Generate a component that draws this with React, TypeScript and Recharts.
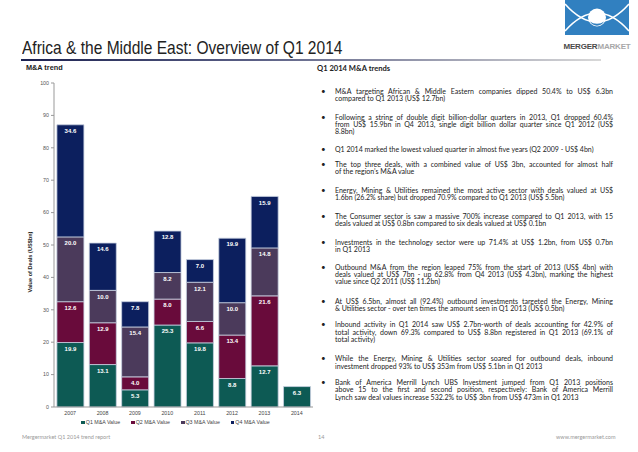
import React from 'react';
import { BarChart, Bar, XAxis, YAxis, Legend, LabelList, Label } from 'recharts';

const years = ['2007', '2008', '2009', '2010', '2011', '2012', '2013', '2014'];
const q1Values = [19.9, 13.1, 5.3, 25.3, 19.8, 8.8, 12.7, 6.3];
const q2Values = [12.6, 12.9, 4.0, 8.0, 6.6, 13.4, 21.6, null];
const q3Values = [20.0, 10.0, 15.4, 8.2, 12.1, 10.0, 14.8, null];
const q4Values = [34.6, 14.6, 7.8, 12.8, 7.0, 19.9, 15.9, null];
const yTicks = [0, 10, 20, 30, 40, 50, 60, 70, 80, 90, 100];

const seriesNames = ['Q1 M&A Value', 'Q2 M&A Value', 'Q3 M&A Value', 'Q4 M&A Value'];
const seriesKeys = ['q1', 'q2', 'q3', 'q4'];
const seriesColors = ['#0d5a54', '#690b3b', '#4b3a5b', '#0c1f5e'];

const bulletLines: string[][] = [
  ['M&A targeting African & Middle Eastern companies dipped 50.4% to US$ 6.3bn', 'compared to Q1 2013 (US$ 12.7bn)'],
  ['Following a string of double digit billion-dollar quarters in 2013, Q1 dropped 60.4%', 'from US$ 15.9bn in Q4 2013, single digit billion dollar quarter since Q1 2012 (US$', '8.8bn)'],
  ['Q1 2014 marked the lowest valued quarter in almost five years (Q2 2009 - US$ 4bn)'],
  ['The top three deals, with a combined value of US$ 3bn, accounted for almost half', 'of the region\u2019s M&A value'],
  ['Energy, Mining & Utilities remained the most active sector with deals valued at US$', '1.6bn (26.2% share) but dropped 70.9% compared to Q1 2013 (US$ 5.5bn)'],
  ['The Consumer sector is saw a massive 700% increase compared to Q1 2013, with 15', 'deals valued at US$ 0.8bn compared to six deals valued at US$ 0.1bn'],
  ['Investments in the technology sector were up 71.4% at US$ 1.2bn, from US$ 0.7bn', 'in Q1 2013'],
  ['Outbound M&A from the region leaped 75% from the start of 2013 (US$ 4bn) with', 'deals valued at US$ 7bn - up 62.8% from Q4 2013 (US$ 4.3bn), marking the highest', 'value since Q2 2011 (US$ 11.2bn)'],
  ['At US$ 6.5bn, almost all (92.4%) outbound investments targeted the Energy, Mining', '& Utilities sector - over ten times the amount seen in Q1 2013 (US$ 0.5bn)'],
  ['Inbound activity in Q1 2014 saw US$ 2.7bn-worth of deals accounting for 42.9% of', 'total activity, down 69.3% compared to US$ 8.8bn registered in Q1 2013 (69.1% of', 'total activity)'],
  ['While the Energy, Mining & Utilities sector soared for outbound deals, inbound', 'investment dropped 93% to US$ 353m from US$ 5.1bn in Q1 2013'],
  ['Bank of America Merrill Lynch UBS Investment jumped from Q1 2013 positions', 'above 15 to the first and second position, respectively: Bank of America Merrill', 'Lynch saw deal values increase 532.2% to US$ 3bn from US$ 473m in Q1 2013'],
];
const bulletCenters = [91.7, 117.3, 149.3, 164.3, 190.7, 216.7, 242.7, 267.3, 301.7, 325, 359, 382.7];

const data = years.map((y, i) => ({
  year: y,
  q1: q1Values[i],
  q2: q2Values[i],
  q3: q3Values[i],
  q4: q4Values[i],
}));

const fmt = (v: any) => (v === null || v === undefined ? '' : Number(v).toFixed(1));

const LINE_H = 7.4;

function LegendContent() {
  return (
    <div style={{ display: 'flex', justifyContent: 'center', gap: 11, fontSize: 5.3, color: '#444', fontFamily: 'Liberation Sans, Arial, sans-serif', paddingLeft: 14, lineHeight: '11px' }}>
      {seriesNames.map((n, i) => (
        <span key={n} style={{ display: 'inline-flex', alignItems: 'center', whiteSpace: 'nowrap' }}>
          <span style={{ display: 'inline-block', width: 3.5, height: 3.5, background: seriesColors[i], marginRight: 1 }} />
          {n}
        </span>
      ))}
    </div>
  );
}

function Logo() {
  return (
    <svg width={72} height={52} style={{ position: 'absolute', left: 562, top: 0 }}>
      <rect x={3} y={0} width={64} height={35} fill="#3180c0" />
      <path d="M3,4 Q35,40 67,4" stroke="#fff" strokeWidth={1.6} fill="none" />
      <path d="M3,31 Q35,-5 67,31" stroke="#fff" strokeWidth={1.6} fill="none" />
      <circle cx={35} cy={17.5} r={9} fill="#fff" />
      <path d="M28,21.5 A8,8 0 0 0 42,21.5 A9,6 0 0 1 28,21.5 Z" fill="#3180c0" />
      <text x={35} y={49} textAnchor="middle" fontFamily="Liberation Sans, Arial, sans-serif" fontSize={8} fontWeight="bold" letterSpacing={-0.2}>
        <tspan fill="#4a4a4a">MERGER</tspan>
        <tspan fill="#a8a8a8">MARKET</tspan>
      </text>
    </svg>
  );
}

export default function App() {
  return (
    <div style={{ position: 'absolute', left: 0, top: 0, width: 638, height: 452, background: '#fff', overflow: 'hidden', fontFamily: 'Liberation Sans, Arial, sans-serif' }}>
      <div style={{ position: 'absolute', left: 22, top: 37, fontSize: 18.5, color: '#222', whiteSpace: 'nowrap', transformOrigin: '0 0', transform: 'scaleX(0.84)' }}>
        Africa &amp; the Middle East: Overview of Q1 2014
      </div>
      <div style={{ position: 'absolute', left: 21, top: 59, width: 580, height: 2, background: 'linear-gradient(to right, #1b2150 0%, #5a5f85 40%, #d8d8d8 100%)' }} />
      <Logo />

      <div style={{ position: 'absolute', left: 26, top: 63, fontSize: 7.3, fontWeight: 'bold', color: '#222' }}>M&amp;A trend</div>
      <div style={{ position: 'absolute', left: 317, top: 63, fontSize: 7.6, fontWeight: 'bold', color: '#222', fontFamily: 'Lato, sans-serif' }}>Q1 2014 M&amp;A trends</div>

      {bulletLines.map((lines, bi) => (
        <div key={bi} style={{ position: 'absolute', left: 321, top: bulletCenters[bi] - LINE_H / 2, fontFamily: 'Lato, sans-serif', fontSize: 7, color: '#222', lineHeight: LINE_H + 'px' }}>
          <div style={{ position: 'absolute', left: 0, top: 0, fontSize: 8 }}>•</div>
          {lines.map((l, li) => (
            <div
              key={li}
              style={{
                position: 'absolute',
                left: 14,
                top: li * LINE_H,
                width: 278,
                whiteSpace: 'nowrap',
                textAlign: li < lines.length - 1 ? 'justify' : 'left',
                textAlignLast: li < lines.length - 1 ? 'justify' : 'left',
              } as React.CSSProperties}
            >
              {l}
            </div>
          ))}
        </div>
      ))}

      <div style={{ position: 'absolute', left: 0, top: 60 }}>
        <BarChart width={320} height={380} data={data} margin={{ top: 23, right: 7, left: 24, bottom: 12 }} barCategoryGap="9%">
          <XAxis dataKey="year" tickLine={false} axisLine={{ stroke: '#999' }} tick={{ fontSize: 5.3, fill: '#444' }} tickSize={3} tickMargin={1} height={10} interval={0} />
          <YAxis domain={[0, 100]} ticks={yTicks} width={30} tick={{ fontSize: 5.3, fill: '#555' }} tickSize={3} tickMargin={2} axisLine={{ stroke: '#999' }} tickLine={{ stroke: '#999' }} interval={0}>
            <Label
              content={() => (
                <text transform="translate(31,202) rotate(-90)" textAnchor="middle" dominantBaseline="middle" fontSize={5.6} fontWeight="bold" fill="#222">
                  Value of Deals (US$bn)
                </text>
              )}
            />
          </YAxis>
          <Legend verticalAlign="bottom" height={11} content={() => <LegendContent />} />
          {seriesKeys.map((k, i) => (
            <Bar key={k} dataKey={k} name={seriesNames[i]} stackId="a" fill={seriesColors[i]} stroke="#c6cfe0" strokeWidth={0.8} isAnimationActive={false}>
              <LabelList dataKey={k} position="insideTop" offset={4} formatter={fmt} fill="#fff" fontSize={6} fontWeight="bold" />
            </Bar>
          ))}
        </BarChart>
      </div>

      <div style={{ position: 'absolute', left: 22, top: 434, fontSize: 5.5, color: '#999', fontFamily: 'Lato, sans-serif' }}>Mergermarket Q1 2014 trend report</div>
      <div style={{ position: 'absolute', left: 318, top: 434, fontSize: 5.5, color: '#999', fontFamily: 'Lato, sans-serif' }}>14</div>
      <div style={{ position: 'absolute', left: 556, top: 434, width: 57, textAlign: 'right', fontSize: 5.5, color: '#999', fontFamily: 'Lato, sans-serif', whiteSpace: 'nowrap' }}>www.mergermarket.com</div>
    </div>
  );
}
